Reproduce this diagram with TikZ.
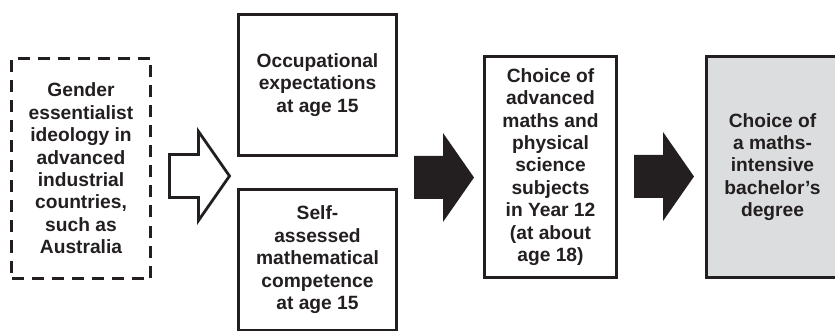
\documentclass[tikz,border=0pt]{standalone}
\usepackage{fontspec}
\setmainfont{Liberation Sans}
\usetikzlibrary{positioning}

\definecolor{ink}{HTML}{231F20}
\definecolor{paleGray}{HTML}{DCDDDE}

\tikzset{
  blockarrow/.pic={
    \path[pic actions] (0,-21.5) -- (29,-21.5) -- (29,-44.5) -- (60,0)
      -- (29,44.5) -- (29,21.5) -- (0,21.5) -- cycle;
  }
}

\begin{document}
\begin{tikzpicture}[x=1pt,y=-1pt,node distance=34pt,
  box/.style={draw=ink,line width=2.8pt,align=center,text=ink,inner sep=0pt,
    outer sep=0pt,font=\fontsize{19.2}{22.4}\selectfont\bfseries},
  dashbox/.style={box,dash pattern=on 12pt off 8pt,minimum width=139pt,minimum height=220pt},
  agebox/.style={box,minimum width=158pt,minimum height=141pt},
  tallbox/.style={box,minimum width=132pt,minimum height=221pt},
  hollowarrow/.style={draw=ink,fill=white,line width=2.8pt,miter limit=4},
  solidarrow/.style={fill=ink}]

  \useasboundingbox (0,0) rectangle (835,331);
  \clip (0,0) rectangle (835,331);

  \node[dashbox] (ideo) at (81,168.5) {Gender\\essentialist\\ideology in\\advanced\\industrial\\countries,\\such as\\Australia};
  \node[agebox] (occ) at (317.5,84.7) {Occupational\\expectations\\at age 15};
  \node[agebox] (self) [below=of occ] {Self-\\assessed\\mathematical\\competence\\at age 15};
  \node[tallbox] (yr12) at (550.5,167) {Choice of\\advanced\\maths and\\physical\\science\\subjects\\in Year 12\\(at about\\age 18)};
  \node[tallbox,fill=paleGray] (deg) [right=90pt of yr12] {Choice of\\a maths-\\intensive\\bachelor’s\\degree};

  % block arrows between the columns
  \pic[hollowarrow] at (169.5,176) {blockarrow};
  \pic[solidarrow] at (414,177.5) {blockarrow};
  \pic[solidarrow] at (634,176.5) {blockarrow};
\end{tikzpicture}
\end{document}
